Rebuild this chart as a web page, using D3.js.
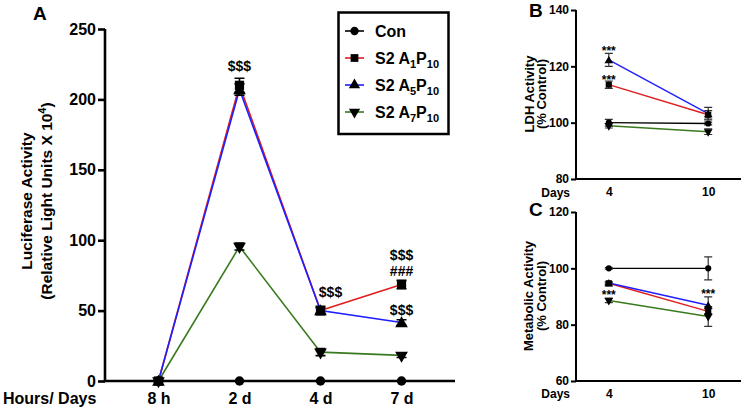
<!DOCTYPE html>
<html><head><meta charset="utf-8">
<script src="https://cdn.jsdelivr.net/npm/d3@7"></script>
<style>
html,body{margin:0;padding:0;background:#fff;}
svg{display:block;font-family:"Liberation Sans",Arial,sans-serif;font-weight:bold;}
</style></head>
<body><svg id="chart" width="746" height="410"></svg>
<script>
// ---------- DATA ----------
const categoriesA = ["8 h", "2 d", "4 d", "7 d"];
const conA     = [0, 0, 0, 0];
const conAErr  = [0, 0, 0, 0];
const a1A      = [0, 210, 50, 68.5];
const a1AErr   = [0.5, 5, 3, 3];
const a5A      = [0, 207, 50, 41.5];
const a5AErr   = [0, 4, 2, 2];
const a7A      = [0, 95.5, 20.5, 18.2];
const a7AErr   = [0, 2.5, 2.5, 1.5];
const ticksA   = [0, 50, 100, 150, 200, 250];

const categoriesBC = ["4", "10"];
const conB = [100, 99.7],  conBErr = [1.2, 0.5];
const a1B  = [113.5, 102.8], a1BErr = [1.3, 1.5];
const a5B  = [122.3, 103.2], a5BErr = [2.3, 2.2];
const a7B  = [98.9, 96.8],  a7BErr = [0.8, 1.0];
const ticksB = [80, 100, 120, 140];

const conC = [100, 100],   conCErr = [0.3, 4.1];
const a1C  = [94.7, 84.7], a1CErr = [0.5, 1.0];
const a5C  = [94.8, 86.9], a5CErr = [0.3, 3.0];
const a7C  = [88.6, 82.9], a7CErr = [0.8, 3.5];
const ticksC = [60, 80, 100, 120];

const seriesNames = ["Con", "S2 A1P10", "S2 A5P10", "S2 A7P10"];
const seriesSubs  = [null, "1", "5", "7"];
const seriesColors = ["#000000", "#e01e1e", "#1f1fff", "#3a7a1e"];

// annotations: [category, series value, text]
const annA = [["2 d", 215, "$$$"], ["4 d", 53, "$$$"], ["7 d", 71.5, "###"], ["7 d", 71.5, "$$$"], ["7 d", 43.5, "$$$"]];
const annB = [["4", 124.6, "***"], ["4", 114.8, "***"]];
const annC = [["4", 89.4, "***"], ["10", 89.9, "***"]];

// ---------- DRAW ----------
const svg = d3.select("#chart");
const shapes = [
  d3.symbolCircle, d3.symbolSquare, d3.symbolTriangle, d3.symbolTriangle
];

function panel(cfg) {
  const g = svg.append("g");
  const x = d3.scalePoint().domain(cfg.cats).range(cfg.xr).padding(cfg.pad);
  const y = d3.scaleLinear().domain(cfg.yd).range(cfg.yr);
  const sets = cfg.series;

  // y axis
  const ya = g.append("g").attr("transform", `translate(${cfg.xr[0]},0)`)
    .call(d3.axisLeft(y).tickValues(cfg.ticks).tickSize(cfg.tick).tickSizeOuter(0).tickPadding(2));
  ya.select(".domain").attr("stroke-width", cfg.aw).attr("d", `M0,${cfg.yr[0]}V${cfg.yr[1]}`);
  ya.selectAll(".tick line").attr("stroke-width", cfg.aw);
  ya.selectAll("text").attr("font-size", cfg.fs).attr("font-family", "Liberation Sans, Arial").attr("font-weight", "bold").attr("fill", "#000");

  // x axis
  const xa = g.append("g").attr("transform", `translate(0,${cfg.yr[0]})`)
    .call(d3.axisBottom(x).tickSize(0).tickPadding(cfg.xpad));
  xa.select(".domain").attr("stroke-width", cfg.aw).attr("d", `M${cfg.xr[0] - cfg.aw/2},0H${cfg.xr[1]}`);
  xa.selectAll("text").attr("font-size", cfg.fs).attr("font-family", "Liberation Sans, Arial").attr("font-weight", "bold").attr("fill", "#000");

  g.append("text").attr("x", cfg.xlabX).attr("y", cfg.xlabY).attr("text-anchor", cfg.xlabAnchor)
    .attr("font-size", cfg.fs).text(cfg.xlab);

  // lines
  sets.forEach((s, i) => {
    g.append("path").datum(s.v)
      .attr("fill", "none").attr("stroke", seriesColors[i]).attr("stroke-width", cfg.lw)
      .attr("d", d3.line().x((d, k) => x(cfg.cats[k])).y(d => y(d)));
  });
  // error bars
  sets.forEach((s, i) => {
    s.v.forEach((v, k) => {
      const e = s.e[k]; if (!e) return;
      const cx = x(cfg.cats[k]);
      g.append("path").attr("fill", "none").attr("stroke", cfg.ec).attr("stroke-width", cfg.ew)
        .attr("d", `M${cx},${y(v - e)}V${y(v + e)}M${cx - cfg.cap},${y(v + e)}H${cx + cfg.cap}M${cx - cfg.cap},${y(v - e)}H${cx + cfg.cap}`);
    });
  });
  // markers
  sets.forEach((s, i) => {
    s.v.forEach((v, k) => {
      g.append("path").attr("fill", "#000")
        .attr("d", d3.symbol(shapes[i], cfg.ms[i])())
        .attr("transform", `translate(${x(cfg.cats[k])},${y(v) + (i === 2 ? 1 : 0)}) rotate(${i === 3 ? 180 : 0})`);
    });
  });
  // annotations
  cfg.ann.forEach(a => {
    g.append("text").attr("x", x(a[0]) + (cfg.annDx[a[0]] || 0))
      .attr("y", y(a[1]) - cfg.annOff(a))
      .attr("text-anchor", "middle").attr("font-size", cfg.afs).text(a[2]);
  });
  // y title
  const t = g.append("text").attr("transform", `translate(${cfg.tx1},${cfg.ty}) rotate(-90)`)
    .attr("text-anchor", "middle").attr("font-size", cfg.tfs);
  t.append("tspan").attr("x", 0).attr("y", 0).text(cfg.t1);
  const t2 = g.append("text").attr("transform", `translate(${cfg.tx2},${cfg.ty}) rotate(-90)`)
    .attr("text-anchor", "middle").attr("font-size", cfg.tfs);
  cfg.t2(t2);
  // panel letter
  g.append("text").attr("x", cfg.lx).attr("y", cfg.ly).attr("font-size", 19).text(cfg.letter);
  return { x, y };
}

const mk = (vs, es) => vs.map((v, i) => ({ v, e: es[i] }));

panel({
  cats: categoriesA, xr: [105, 455], pad: 0.66, yd: [0, 250], yr: [381, 29], ticks: ticksA,
  tick: 7, aw: 2.6, fs: 16, xpad: 11.5, lw: 1.6, ec: "#000", ew: 1.6, cap: 5,
  ms: [70, 85, 70, 70],
  series: mk([conA, a1A, a5A, a7A], [conAErr, a1AErr, a5AErr, a7AErr]),
  xlab: "Hours/ Days", xlabX: 3, xlabY: 404, xlabAnchor: "start",
  ann: annA, afs: 14, annDx: { "4 d": 10 },
  annOff: a => (a[0] === "2 d" ? 7 : a[0] === "4 d" ? 9 : a[2] === "###" ? 4 : (a[1] > 60 ? 20 : 5)),
  tx1: 32, tx2: 52, ty: 201, tfs: 15.5, t1: "Luciferase Activity",
  t2: t => { t.append("tspan").text("(Relative Light Units X 10");
             t.append("tspan").attr("dy", -6).attr("font-size", 11).text("4");
             t.append("tspan").attr("dy", 6).text(")"); },
  lx: 33, ly: 20, letter: "A"
});

panel({
  cats: categoriesBC, xr: [576, 741], pad: 0.33, yd: [80, 140], yr: [179, 10], ticks: ticksB,
  tick: 5, aw: 2, fs: 12, xpad: 8, lw: 1.4, ec: "#333", ew: 1.2, cap: 4,
  ms: [30, 38, 32, 32],
  series: mk([conB, a1B, a5B, a7B], [conBErr, a1BErr, a5BErr, a7BErr]),
  xlab: "Days", xlabX: 570, xlabY: 196.5, xlabAnchor: "end",
  ann: annB, afs: 12, annDx: {},
  annOff: a => (a[1] > 120 ? -2 : -3),
  tx1: 534, tx2: 546, ty: 94, tfs: 13, t1: "LDH Activity",
  t2: t => { t.append("tspan").text("(% Control)"); },
  lx: 529, ly: 17, letter: "B"
});

panel({
  cats: categoriesBC, xr: [576, 741], pad: 0.33, yd: [60, 120], yr: [381, 212], ticks: ticksC,
  tick: 5, aw: 2, fs: 12, xpad: 8, lw: 1.4, ec: "#333", ew: 1.2, cap: 4,
  ms: [30, 38, 32, 32],
  series: mk([conC, a1C, a5C, a7C], [conCErr, a1CErr, a5CErr, a7CErr]),
  xlab: "Days", xlabX: 570, xlabY: 398, xlabAnchor: "end",
  ann: annC, afs: 12, annDx: {},
  annOff: a => -1,
  tx1: 533, tx2: 546, ty: 296, tfs: 13, t1: "Metabolic Activity",
  t2: t => { t.append("tspan").text("(% Control)"); },
  lx: 529, ly: 216, letter: "C"
});

// legend
const leg = svg.append("g");
leg.append("rect").attr("x", 338.5).attr("y", 12.5).attr("width", 110).attr("height", 121.5)
  .attr("fill", "#fff").attr("stroke", "#000").attr("stroke-width", 2.5);
const legY = d3.scalePoint().domain(seriesNames).range([31, 112]);
const legSizes = [55, 60, 55, 55];
seriesNames.forEach((n, i) => {
  const yy = legY(n);
  leg.append("line").attr("x1", 345).attr("x2", 364).attr("y1", yy).attr("y2", yy)
    .attr("stroke", seriesColors[i]).attr("stroke-width", 1.6);
  leg.append("path").attr("fill", "#000").attr("d", d3.symbol(shapes[i], legSizes[i])())
    .attr("transform", `translate(354.5,${yy}) rotate(${i === 3 ? 180 : 0})`);
  const t = leg.append("text").attr("x", 375).attr("y", yy + 6).attr("font-size", 16);
  if (!seriesSubs[i]) { t.text(n); return; }
  t.append("tspan").text("S2 A");
  t.append("tspan").attr("dy", 4).attr("font-size", 11).text(seriesSubs[i]);
  t.append("tspan").attr("dy", -4).text("P");
  t.append("tspan").attr("dy", 4).attr("font-size", 11).text("10");
});
</script></body></html>
